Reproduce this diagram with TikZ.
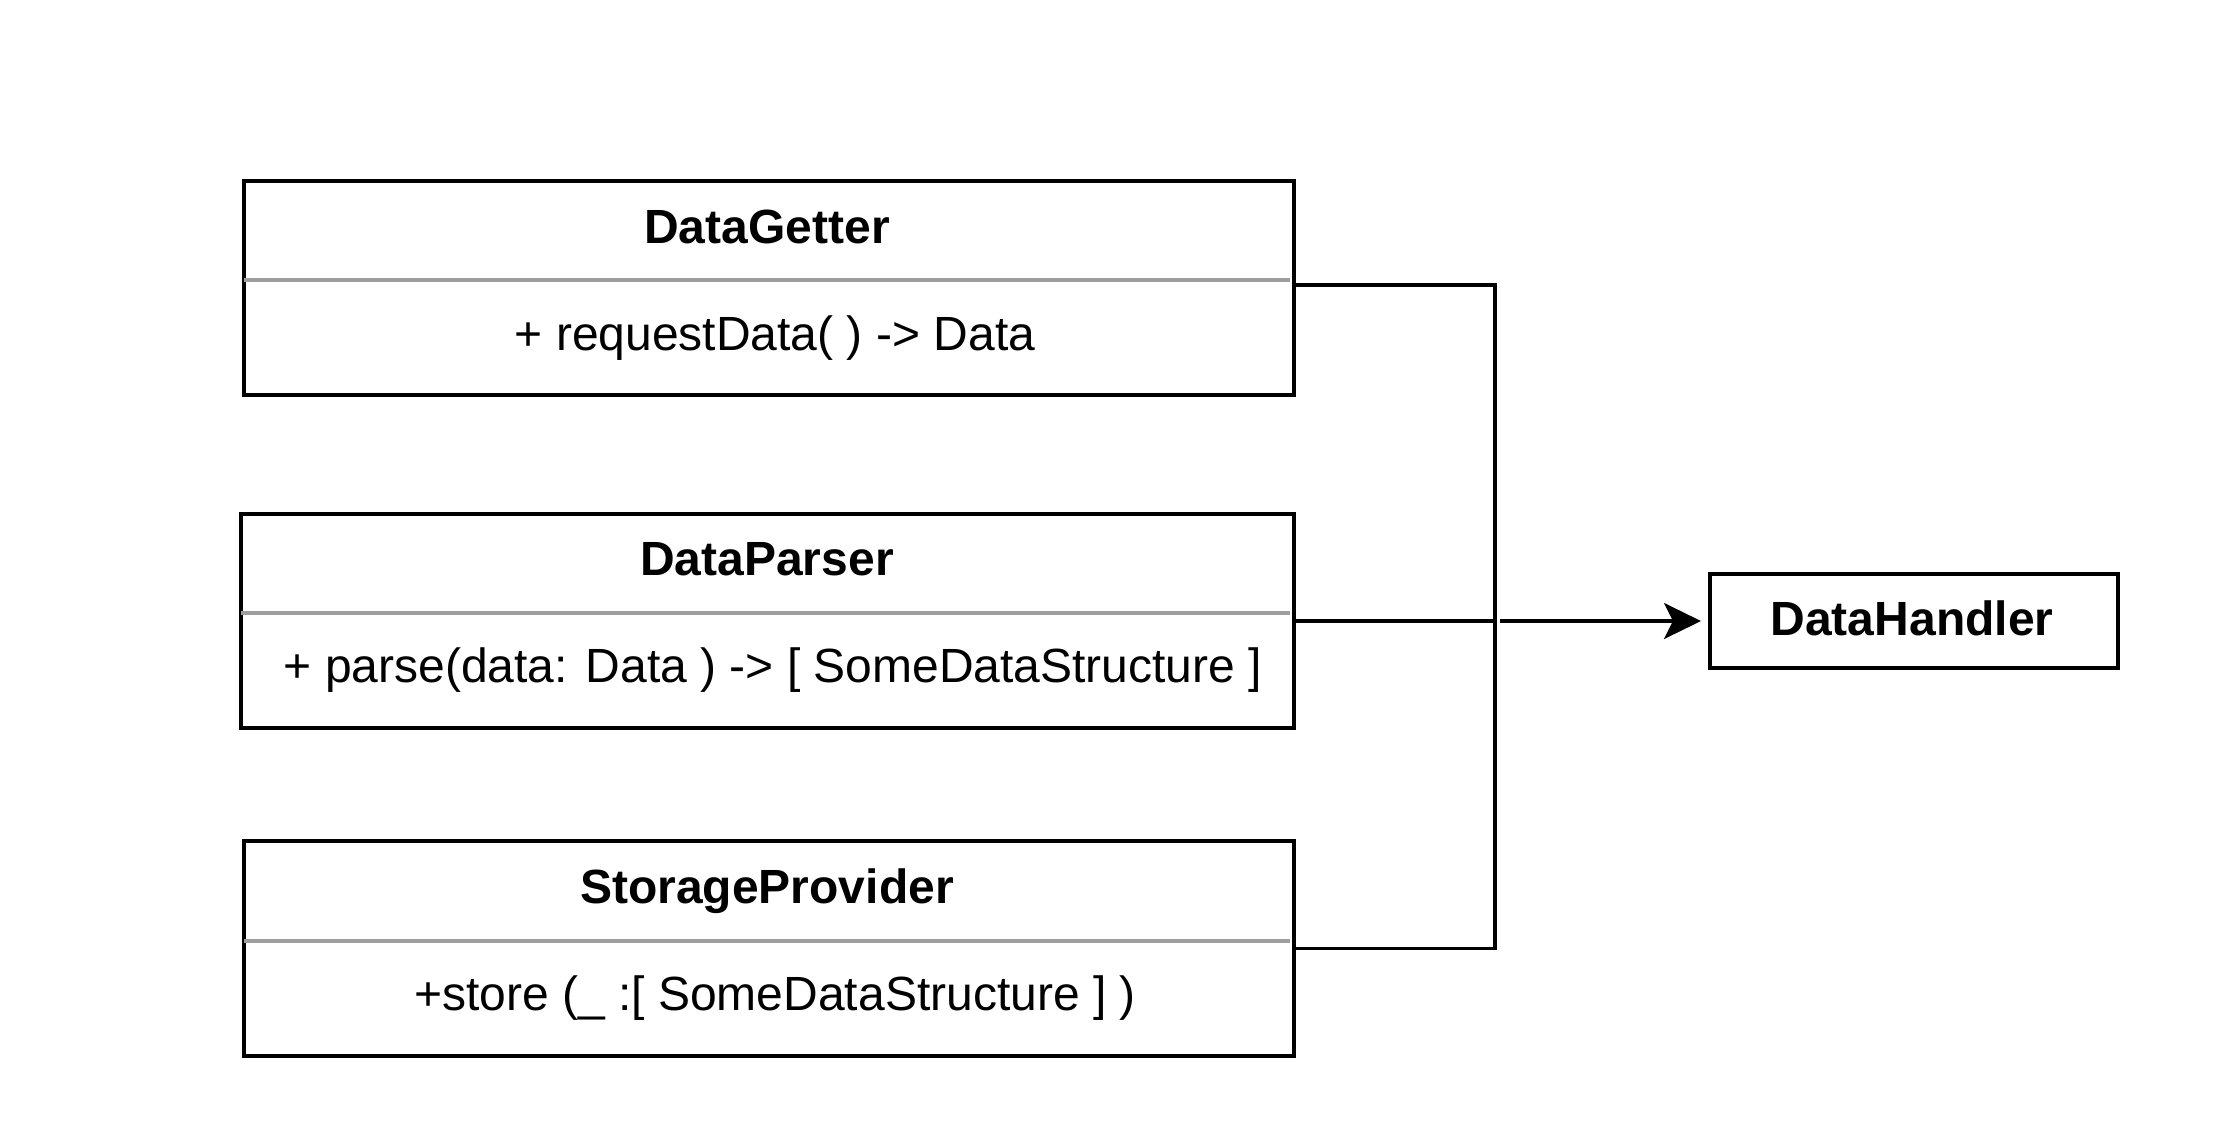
\documentclass[tikz,border=0pt]{standalone}
\usepackage{fontspec}
\setmainfont{Liberation Sans}
\usetikzlibrary{arrows.meta}
\usetikzlibrary{calc}
\definecolor{sepgray}{RGB}{158,158,158}
\tikzset{every picture/.style={line width=0.75pt}}
\tikzset{
  classbox/.style={draw, line width=2pt, anchor=north west, inner sep=0pt},
  titletext/.style={anchor=base, inner sep=0.75pt, font=\fontsize{24}{28}\selectfont\bfseries},
  methodtext/.style={anchor=base, inner sep=0.75pt, font=\fontsize{24}{28}\selectfont},
  sepline/.style={draw=sepgray, line width=2pt},
  wire/.style={draw, line width=1.75pt},
  wirearrow/.style={-{Stealth[length=18.5pt,width=18pt,inset=4.5pt]}, shorten >=3.5pt},
}

\begin{document}
\begin{tikzpicture}[x=0.5pt,y=0.5pt,yscale=-1,xscale=1]
\path (0,0) rectangle (2228,1120); %set diagram size

%Shape: Rectangle [id:getter]
\node [classbox, minimum width=525pt, minimum height=107pt] (getter) at (242,179) {};
%Shape: Rectangle [id:parser]
\node [classbox, minimum width=526.5pt, minimum height=107pt] (parser) at (239,512) {};
%Shape: Rectangle [id:storage]
\node [classbox, minimum width=525pt, minimum height=107.5pt] (storage) at (242,839) {};
%Shape: Rectangle [id:handler]
\node [classbox, minimum width=204pt, minimum height=47pt] (handler) at (1708,572) {};

%Straight Lines [id:separators]
\draw [sepline] (244,280) -- (1290,280) ;
\draw [sepline] (241,613) -- (1290,613) ;
\draw [sepline] (244,941) -- (1290,941) ;

%Straight Lines [id:connectors]
\coordinate (bus) at (1495,0);
\coordinate (busJump) at (1499.5,0);
\coordinate (getterOut) at ([yshift=-1.5pt]getter.east);
\draw [wire] (getterOut) -- (getterOut -| bus) -- (storage.east -| bus) -- (storage.east) ;
\draw [wire] (parser.east) -- (parser.east -| bus) ;
\draw [wire, wirearrow] (parser.east -| busJump) -- (handler.west) ;

% Text Node
\node [titletext] (getterTitle) at (767,243) {DataGetter};
% Text Node
\node [methodtext] (getterMethod) at (775,350) {+ requestData( ) -> Data};
% Text Node
\node [titletext] (parserTitle) at (767,575) {DataParser};
% Text Node
\node [methodtext] (parserMethod) at (773,682) {+ parse(data: Data ) -> [ SomeDataStructure ]};
% Text Node
\node [titletext] (storageTitle) at (767,903) {StorageProvider};
% Text Node
\node [methodtext] (storageMethod) at (775,1010) {+store (\_ :[ SomeDataStructure ] )};
% Text Node
\node [titletext] (handlerTitle) at (1912,635) {DataHandler};

\end{tikzpicture}
\end{document}
